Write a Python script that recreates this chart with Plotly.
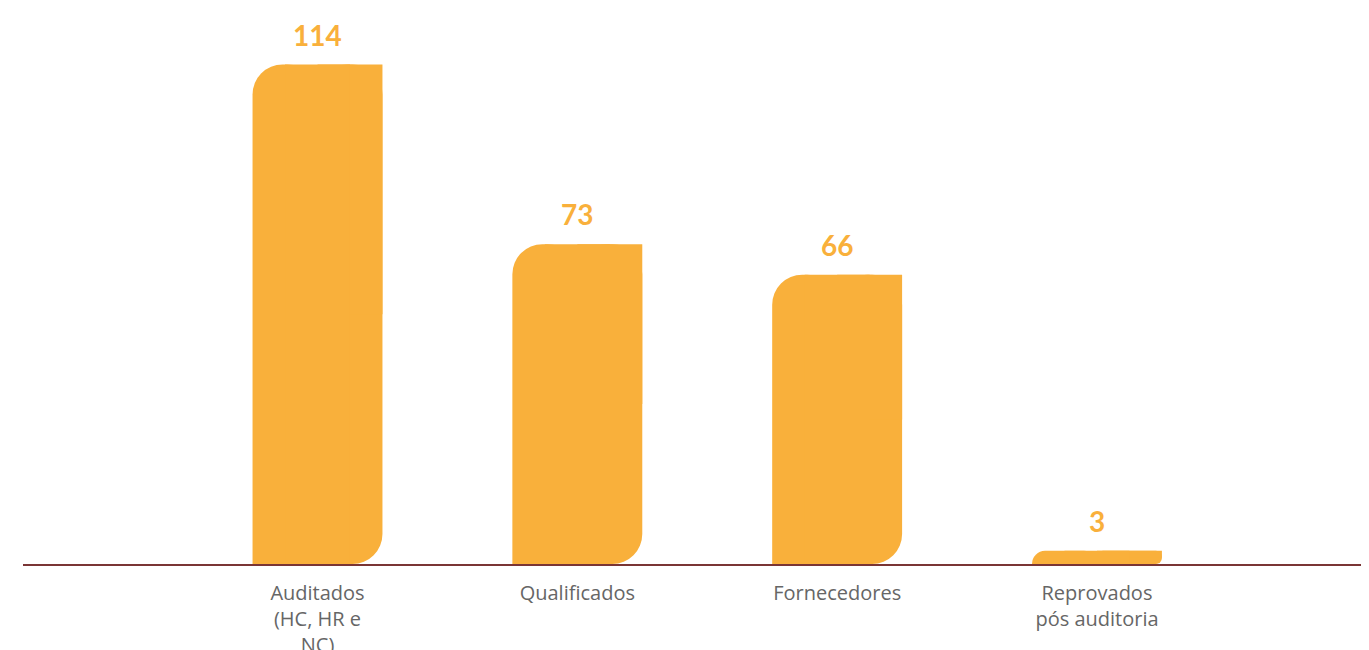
import plotly.graph_objects as go

categories = ["Auditados", "Qualificados", "Fornecedores", "Reprovados"]
tick_labels = ["Auditados<br>(HC, HR e<br>NC)", "Qualificados", "Fornecedores", "Reprovados<br>pós auditoria"]
values = [114, 73, 66, 3]

orange = "#F9B03B"
label_font = "Open Sans, sans-serif"
number_font = "Lato, sans-serif"

half = [v / 2 for v in values]

fig = go.Figure()

# leaf shaped bars built from pieces:
# left half: rounded only at the top (no base)
fig.add_trace(go.Bar(x=categories, y=values, width=0.25, offset=-0.25,
                     marker=dict(color=orange, cornerradius=30, line_width=0),
                     hoverinfo="skip"))
# right half: with a base plotly rounds both ends
fig.add_trace(go.Bar(x=categories, y=values, base=[0] * len(values), width=0.25, offset=0,
                     marker=dict(color=orange, cornerradius=30, line_width=0),
                     hoverinfo="skip"))
# square pieces hiding the unwanted rounded corners
fig.add_trace(go.Bar(x=categories, y=half, base=half, width=0.25, offset=0,
                     marker=dict(color=orange, line_width=0), hoverinfo="skip"))
fig.add_trace(go.Bar(x=categories, y=values, width=0.25, offset=-0.125,
                     marker=dict(color=orange, line_width=0), hoverinfo="skip"))

# value labels above the bars
for c, v in zip(categories, values):
    fig.add_annotation(x=c, y=v, text="<b>%d</b>" % v, showarrow=False,
                       yanchor="bottom", yshift=11,
                       font=dict(family=number_font, size=28, color=orange))

# the page body adds 8px on the left and top, so the figure is 8px smaller
fig.update_layout(
    width=1361, height=642,
    barmode="overlay",
    showlegend=False,
    plot_bgcolor="white",
    paper_bgcolor="white",
    margin=dict(l=15, r=0, t=0, b=86),
    font=dict(family=label_font, size=20, color="#666666"),
)

fig.update_xaxes(
    type="category",
    categoryorder="array", categoryarray=categories,
    tickvals=categories, ticktext=tick_labels,
    range=[-1.1335, 4.047],
    automargin=False,
    showline=True, linecolor="#7A3535", linewidth=2,
    showgrid=False, zeroline=False,
    ticks="outside", ticklen=10, tickcolor="rgba(0,0,0,0)",
    tickfont=dict(family=label_font, size=20, color="#666666"),
)
fig.update_yaxes(range=[0, 126.9], visible=False, showgrid=False, zeroline=False,
                 automargin=False)

fig.write_html("out.html")
